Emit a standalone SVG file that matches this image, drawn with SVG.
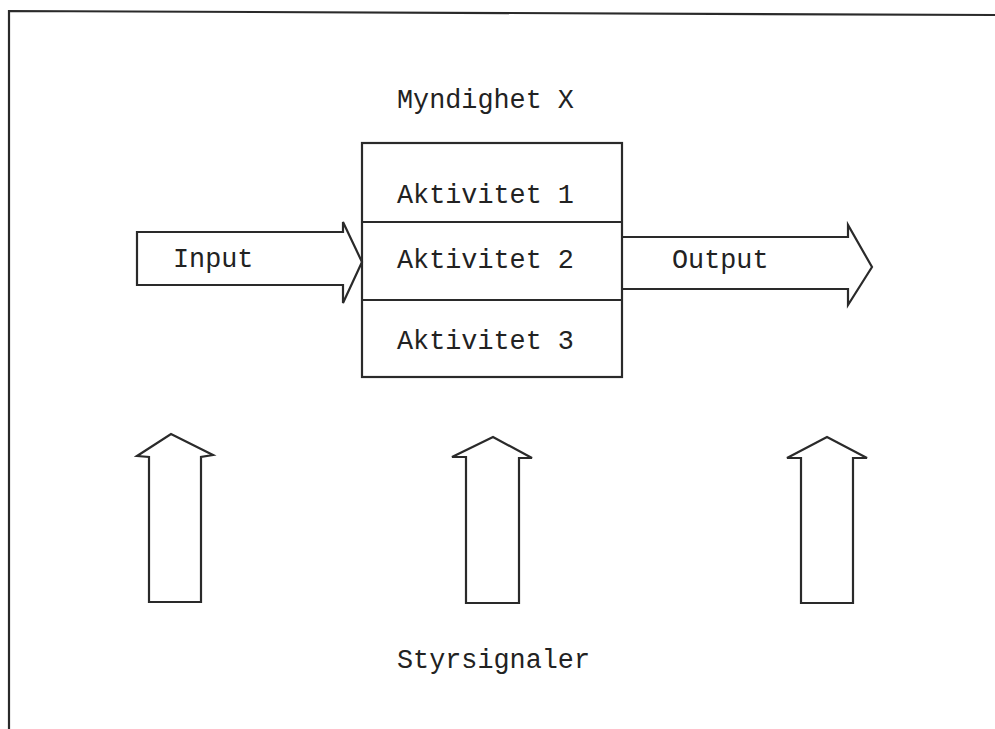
<svg xmlns="http://www.w3.org/2000/svg" width="995" height="729" viewBox="0 0 995 729">
<style>
.ln{fill:none;stroke:#2a2a2a;stroke-width:2.2;stroke-linejoin:miter}
.ar{fill:#fff;stroke:#2a2a2a;stroke-width:2.2;stroke-linejoin:miter}
.t{font-family:"Liberation Mono","DejaVu Sans Mono",monospace;font-size:26.8px;fill:#222}
</style>
<rect width="995" height="729" fill="#fff"/>
<g id="frame">
<path class="ln" d="M9,729 V11 L995,15"/>
</g>
<g id="title"><text class="t" x="397" y="108">Myndighet X</text></g>
<g id="connectors">
<g id="input">
<path class="ar" d="M137,232 H343 L343,222 L362,262 L343,303 L343,285 H137 Z"/>
<text class="t" x="173" y="267">Input</text>
</g>
<g id="output">
<path class="ar" d="M622,237 H848 L848,225 L872,267 L848,305 L848,289 H622"/>
<text class="t" x="672" y="268">Output</text>
</g>
<g id="signal1"><path class="ar" d="M149,602 V457 L137,456 L171,434 L213,455 L201,457 V602 Z"/></g>
<g id="signal2"><path class="ar" d="M466,603 V457 L452,457 L493,437 L532,458 L519,458 V603 Z"/></g>
<g id="signal3"><path class="ar" d="M801,603 V458 L787,458 L827,437 L867,458 L853,458 V603 Z"/></g>
</g>
<g id="myndighet">
<rect class="ln" x="362" y="143" width="260" height="234" fill="#fff"/>
<line class="ln" x1="362" y1="222" x2="622" y2="222"/>
<line class="ln" x1="362" y1="300" x2="622" y2="300"/>
</g>
<g id="aktivitet1"><text class="t" x="397" y="203">Aktivitet 1</text></g>
<g id="aktivitet2"><text class="t" x="397" y="268">Aktivitet 2</text></g>
<g id="aktivitet3"><text class="t" x="397" y="349">Aktivitet 3</text></g>
<g id="styrsignaler"><text class="t" x="397" y="668">Styrsignaler</text></g>
</svg>
